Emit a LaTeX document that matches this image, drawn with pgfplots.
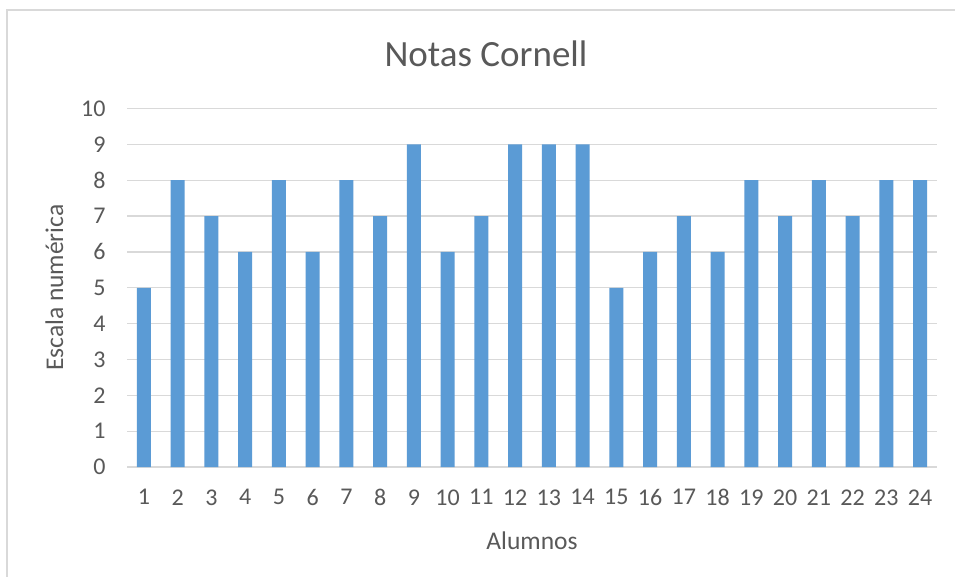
\documentclass[border=0pt]{standalone}
\usepackage{pgfplots}
\pgfplotsset{compat=1.18}
\usepackage{fontspec}
\setmainfont{Carlito}
\definecolor{barblue}{RGB}{91,155,213}
\definecolor{gridgray}{RGB}{217,217,217}
\definecolor{txtgray}{RGB}{89,89,89}
\begin{document}
\begin{tikzpicture}[x=1bp,y=1bp]
\clip (0,0) rectangle (955,-577);
\fill[white] (0,0) rectangle (955,-577);
\draw[gridgray, line width=1.2bp] (7,-10) rectangle (970,-590);
\begin{axis}[
  at={(127bp,-467bp)}, anchor=south west,
  scale only axis,
  width=810bp, height=358.5bp,
  xmin=0.5, xmax=24.5,
  ymin=0, ymax=10,
  ybar, bar width=14bp,
  axis line style={draw=none},
  xtick={1,...,24}, ytick={0,...,10},
  major tick length=0pt,
  ymajorgrids, grid style={gridgray, line width=1.2bp},
  extra y ticks={0}, extra y tick labels={},
  extra y tick style={grid style={gridgray, line width=1.6bp}},
  tick label style={font=\fontsize{24bp}{27bp}\selectfont, text=txtgray},
  /pgf/number format/assume math mode=true,
  xticklabel style={yshift=-19bp},
  yticklabel style={xshift=-18bp},
  xlabel={Alumnos}, ylabel={Escala numérica},
  label style={font=\fontsize{25.5bp}{28bp}\selectfont, text=txtgray},
  xlabel style={yshift=-19bp},
  ylabel style={yshift=11bp},
  title={Notas Cornell},
  title style={font=\fontsize{37bp}{40bp}\selectfont, text=txtgray, yshift=32bp, xshift=-46bp},
]
\addplot[fill=barblue, draw=none] coordinates {
(1,5) (2,8) (3,7) (4,6) (5,8) (6,6) (7,8) (8,7) (9,9) (10,6) (11,7) (12,9)
(13,9) (14,9) (15,5) (16,6) (17,7) (18,6) (19,8) (20,7) (21,8) (22,7) (23,8) (24,8)};
\end{axis}
\end{tikzpicture}
\end{document}
